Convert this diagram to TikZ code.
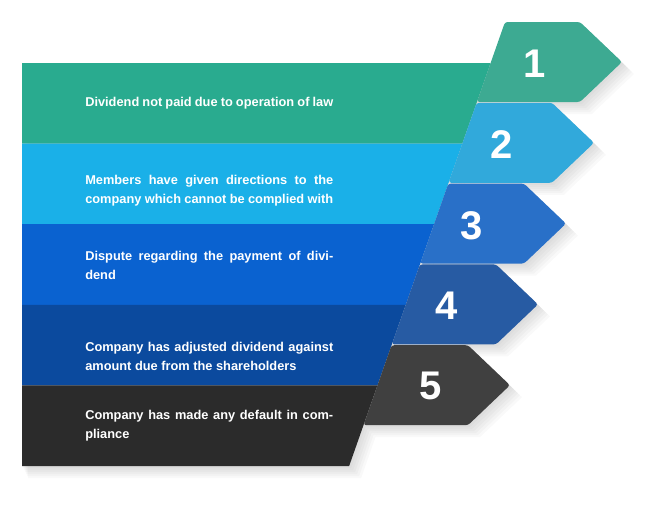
\documentclass[tikz,border=0pt]{standalone}
\usepackage{fontspec}
\setmainfont{Liberation Sans}
\usetikzlibrary{calc}
\definecolor{b1}{HTML}{29AB8F}\definecolor{a1}{HTML}{3DAA92}
\definecolor{b2}{HTML}{1AB0E8}\definecolor{a2}{HTML}{31A9DB}
\definecolor{b3}{HTML}{0A62D0}\definecolor{a3}{HTML}{2970C8}
\definecolor{b4}{HTML}{0B4A9E}\definecolor{a4}{HTML}{275BA3}
\definecolor{b5}{HTML}{2B2B2B}\definecolor{a5}{HTML}{404040}
\tikzset{
 txt/.style={anchor=west,text=white,font=\bfseries\fontsize{9.6}{14.2}\selectfont,text width=186pt,align=justify,inner sep=0pt},
 num/.style={text=white,font=\bfseries\fontsize{30}{30}\selectfont,inner sep=0pt},
 shadowfill/.style={fill=black,opacity=0.06}
}
\begin{document}
\begin{tikzpicture}[x=0.75pt,y=-0.75pt]
\useasboundingbox (0,0) rectangle (665,508);
% line x = 505 - 0.351*(y-22)
\def\LX#1{505-0.351*(#1-22)}
% shadows
\foreach \i in {1,...,6}{
  \fill[black,opacity=0.025] ({22+\i},{63+2*\i}) -- ({\LX{63}+2*\i},{63+2*\i}) -- ({\LX{466}+2*\i},{466+2*\i}) -- ({22+\i},{466+2*\i}) -- cycle;
  \foreach \k in {0,...,4}{
   \pgfmathsetmacro\ty{22+80.8*\k}\pgfmathsetmacro\by{\ty+80}\pgfmathsetmacro\my{\ty+40}
   \fill[black,opacity=0.025] ({\LX{\ty}+2*\i},{\ty+2*\i}) -- ({580-28*\k+2*\i},{\ty+2*\i}) -- ({622-28*\k+2*\i},{\my+2*\i}) -- ({580-28*\k+2*\i},{\by+2*\i}) -- ({\LX{\by}+2*\i},{\by+2*\i}) -- cycle;
  }
}
% bands
\foreach \k/\c in {0/b1,1/b2,2/b3,3/b4,4/b5}{
  \pgfmathsetmacro\ty{63+80.6*\k}\pgfmathsetmacro\by{\ty+80.6}
  \fill[\c] (22,\ty) -- ({\LX{\ty}},\ty) -- ({\LX{\by}},\by) -- (22,\by) -- cycle;
}
% arrows
\foreach \k/\c in {0/a1,1/a2,2/a3,3/a4,4/a5}{
  \pgfmathsetmacro\ty{22+80.8*\k}\pgfmathsetmacro\by{\ty+80}\pgfmathsetmacro\my{\ty+40}
  \fill[\c,rounded corners=2pt] ({\LX{\ty}},\ty) -- ({580-28*\k},\ty) -- ({622-28*\k},\my) -- ({580-28*\k},\by) -- ({\LX{\by}},\by) -- cycle;
}
\node[num] (n1) at (535,64) {1};
\node[num] (n2) at (502,145) {2};
\node[num] (n3) at (472,226) {3};
\node[num] (n4) at (447,306) {4};
\node[num] (n5) at (431,386) {5};
\node[txt] (t1) at (85,103) {Dividend not paid due to operation of law};
\node[txt] (t2) at (85,191) {Members have given directions to the company which cannot be complied with};
\node[txt] (t3) at (85,265) {Dispute regarding the payment of dividend};
\node[txt] (t4) at (85,356) {Company has adjusted dividend against amount due from the shareholders};
\node[txt] (t5) at (85,426) {Company has made any default in compliance};
\end{tikzpicture}
\end{document}
